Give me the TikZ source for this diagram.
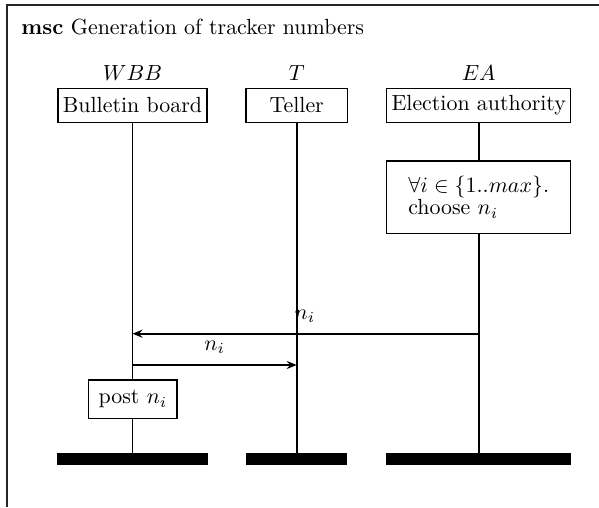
\documentclass[tikz,border=0pt]{standalone}
\usetikzlibrary{arrows.meta}
\begin{document}
\begin{tikzpicture}[
  x=0.4566pt, y=-0.4566pt,
  every node/.style={font=\normalsize},
  headbox/.style={draw, line width=0.7pt, inner sep=0pt, minimum height=15.5pt},
  actbox/.style={draw, line width=0.7pt, inner sep=0pt, fill=white},
  endbar/.style={fill=black, inner sep=0pt, minimum height=5.4pt},
  life/.style={line width=0.75pt},
  msg/.style={line width=0.75pt, -{Stealth[length=4.6pt, width=3.7pt, inset=1.6pt]}},
  frameline/.style={line width=0.8pt, draw=black!85}
]
\useasboundingbox (0,0) rectangle (599,507);

% outer frame of the chart
\draw[frameline] (7,507) -- (7,5) -- (599,5);
\node[anchor=base west, inner sep=0pt] (title) at (21,35) {\textbf{msc} Generation of tracker numbers};

% instance heads
\node[headbox, minimum width=68pt] (wbb) at (132.5,105.3) {Bulletin board};
\node[headbox, minimum width=46.2pt] (tel) at (296.7,105.3) {Teller};
\node[headbox, minimum width=84pt] (ea) at (478.7,105.3) {Election authority};
\node[anchor=base] (wbbname) at (132.5,81) {$WBB$};
\node[anchor=base] (telname) at (296.7,81) {$T$};
\node[anchor=base] (eaname) at (478.7,81) {$EA$};

% local action of the election authority
\node[actbox, minimum width=84pt, minimum height=33pt, align=left] (choose) at (478.7,197.2)
  {$\forall i \in \{1..max\}$.\\[-1.8pt] choose $n_i$};

% local action of the bulletin board
\node[actbox, minimum width=40.4pt, minimum height=17.4pt] (post) at (132.9,399.3) {post $n_i$};

% instance ends
\node[endbar, minimum width=68.6pt] (wbbend) at (132.5,459.2) {};
\node[endbar, minimum width=46.2pt] (telend) at (296.7,459.2) {};
\node[endbar, minimum width=84.5pt] (eaend) at (478.7,459.2) {};

% message end points on the lifelines
\coordinate (ea1) at (478.7,333.7);
\coordinate (wbb1) at (132.5,333.7);
\coordinate (wbb2) at (132.5,365);
\coordinate (tel2) at (296.7,365);

% messages
\draw[msg] (ea1) -- node[above=1.2pt, xshift=-0.3pt] (m1) {$n_i$} (wbb1);
\draw[msg] (wbb2) -- node[above=1.6pt] (m2) {$n_i$} (tel2);

% lifelines
\draw[life] (wbb.south) -- (wbb.south |- post.north);
\draw[life] (post.south -| wbb.south) -- (wbbend.north);
\draw[life] (tel.south) -- (telend.north);
\draw[life] (ea.south) -- (choose.north);
\draw[life] (choose.south) -- (eaend.north);
\end{tikzpicture}
\end{document}
